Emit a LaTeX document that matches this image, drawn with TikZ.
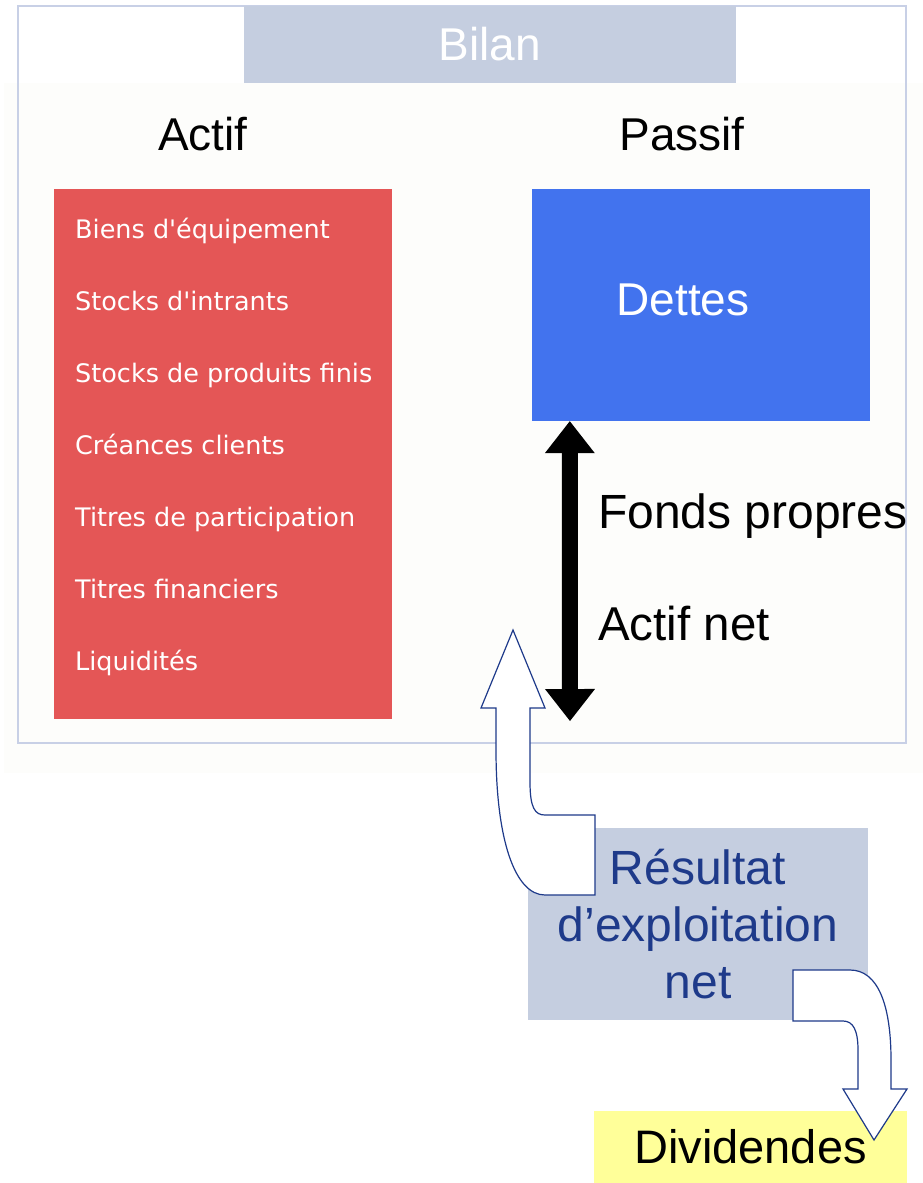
\documentclass[tikz,border=0pt]{standalone}
\usepackage{fontspec}
\setmainfont{Liberation Sans}
\newfontfamily\listfont{DejaVu Sans}
\usetikzlibrary{arrows.meta}
\definecolor{bilangray}{RGB}{197,206,224}
\definecolor{actifred}{RGB}{228,86,86}
\definecolor{dettesblue}{RGB}{66,115,238}
\definecolor{resblue}{RGB}{30,58,138}
\definecolor{divyellow}{RGB}{255,255,153}
\definecolor{framegray}{RGB}{200,208,230}
\definecolor{offwhite}{RGB}{253,253,251}

\begin{document}
\begin{tikzpicture}[x=1pt,y=-1pt,
listitem/.style={anchor=base west,inner sep=0,text=white,font=\listfont\fontsize{25.5}{30}\selectfont},
bigtext/.style={inner sep=0,font=\fontsize{46}{55}\selectfont},
plainbox/.style={inner sep=0,minimum width=#1},
blocarrow/.style={draw=resblue,fill=white,line width=1.2pt,line join=miter}]
\useasboundingbox (0,0) rectangle (923,1183);
\fill[white] (0,0) rectangle (923,1183);
\fill[offwhite] (4,83) rectangle (923,773);
\draw[framegray, line width=1.5pt] (18,6) rectangle (906,743);
\node[plainbox=492, fill=bilangray, minimum height=77, text=white, font=\fontsize{46}{55}\selectfont] (bilan) at (490,44.5) {Bilan};
\node[bigtext, anchor=base] (actif) at (203,150) {Actif};
\node[bigtext, anchor=base] (passif) at (682,150) {Passif};
\node[plainbox=338, fill=actifred, minimum height=530] (actifbox) at (223,454) {};
\node[plainbox=338, fill=dettesblue, minimum height=232] (dettes) at (701,305) {};
\node[bigtext, anchor=base, text=white] (dettestxt) at (683,315) {Dettes};
\foreach \txt [count=\i from 0] in {Biens d'équipement,Stocks d'intrants,Stocks de produits finis,Créances clients,Titres de participation,Titres financiers,Liquidités}
  \node[listitem] (item\i) at (75,{238+72*\i}) {\txt};
\coordinate (fptop) at ([xshift=38pt]dettes.south west);
\coordinate (fpbot) at (570,721);
\draw[line width=16pt, {Triangle[width=50pt,length=32pt,line width=0pt]}-{Triangle[width=50pt,length=32pt,line width=0pt]}] (fptop) -- (fpbot);
\node[bigtext, anchor=base west, font=\fontsize{48}{57}\selectfont] (fonds) at (598,528) {Fonds propres};
\node[bigtext, anchor=base west, font=\fontsize{47.5}{57}\selectfont] (actifnet) at (598,640) {Actif net};
\node[plainbox=340, fill=bilangray, minimum height=192, align=center, text=resblue, font=\fontsize{48}{57}\selectfont] (resultat) at (698,924) {Résultat\\d’exploitation\\net};
\draw[blocarrow] (513,630) -- (545,708) -- (530,708) -- (530,782) .. controls (530,808) and (535,815) .. (545,815) -- (595,815) -- (595,895) -- (545,895) .. controls (515,895) and (496,840) .. (496,750) -- (496,708) -- (481,708) -- cycle;
\node[plainbox=313, fill=divyellow, minimum height=72, font=\fontsize{47}{56}\selectfont] (dividendes) at (750.5,1147) {Dividendes};
\draw[blocarrow] (793,970) -- (850,970) .. controls (878,970) and (891,1005) .. (891,1060) -- (891,1089) -- (907,1089) -- (874,1140) -- (843,1089) -- (858,1089) -- (858,1050) .. controls (858,1030) and (853,1021) .. (843,1021) -- (793,1021) -- cycle;
\end{tikzpicture}
\end{document}
